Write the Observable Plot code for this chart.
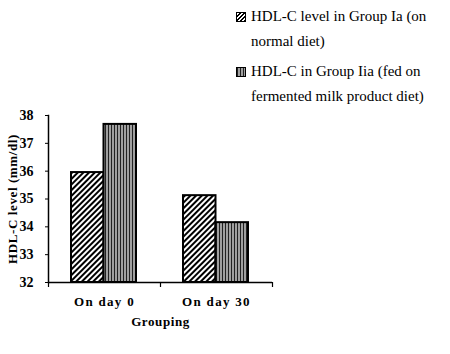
<!DOCTYPE html>
<html>
<head>
<meta charset="utf-8">
<script src="https://cdn.jsdelivr.net/npm/d3@7"></script>
<script src="https://cdn.jsdelivr.net/npm/@observablehq/plot@0.6"></script>
<style>
  html, body { margin: 0; padding: 0; background: #fff; }
  #wrap { position: relative; width: 450px; height: 354px; }
  #legend { position: absolute; left: 236px; top: 4px; color: #000; }
  .item { display: flex; align-items: flex-start; margin-bottom: 5px; }
  .sw { width: 10px; height: 10px; border: 1px solid #000; margin-top: 8px; margin-right: 5px; flex: none; box-sizing: border-box; }
  .lt { font-family: "Liberation Serif", "DejaVu Serif", serif !important; font-size: 15px; line-height: 25px; }
</style>
</head>
<body>
<div id="wrap"></div>
<script>
const categories = ["On day 0", "On day 30"];
const seriesNames = ["HDL-C level in Group Ia (on normal diet)", "HDL-C in Group Iia (fed on fermented milk product diet)"];
const groupIa = [35.95, 35.12];
const groupIIa = [37.68, 34.15];
const yTicks = [32, 33, 34, 35, 36, 37, 38];

const dataIa = categories.map((c, i) => ({cat: c, value: groupIa[i]}));
const dataIIa = categories.map((c, i) => ({cat: c, value: groupIIa[i]}));

const chart = Plot.plot({
  width: 450,
  height: 354,
  marginLeft: 48,
  marginRight: 178,
  marginTop: 115,
  marginBottom: 72,
  style: {fontFamily: "'Liberation Serif', serif", background: "#fff"},
  x: {domain: categories, padding: 0, label: null},
  y: {domain: [32, 38], ticks: yTicks, label: null},
  marks: [
    Plot.barY(dataIa, {x: "cat", y1: 32, y2: "value", fill: "url(#diag)", stroke: "#000", strokeWidth: 2, insetLeft: 23, insetRight: 56.5}),
    Plot.barY(dataIIa, {x: "cat", y1: 32, y2: "value", fill: "url(#vert)", stroke: "#000", strokeWidth: 2, insetLeft: 55.5, insetRight: 24}),
    Plot.ruleY([32], {stroke: "#000", strokeWidth: 1.5}),
    Plot.frame({anchor: "left", stroke: "#000", strokeWidth: 1.5}),
    Plot.ruleX(categories, {x: d => d, y1: 32, y2: 32, insetBottom: -5, dx: -56, stroke: "#000", strokeWidth: 1.2}),
    Plot.ruleX([categories[categories.length - 1]], {x: d => d, y1: 32, y2: 32, insetBottom: -5, dx: 56, stroke: "#000", strokeWidth: 1.2}),
    Plot.axisY({ticks: yTicks, tickFormat: d3.format("d"), tickSize: 3, tickPadding: 12, fontSize: 14, fontWeight: "bold", label: null, stroke: "#000"}),
    Plot.axisX({tickSize: 0, tickPadding: 14, fontSize: 13, fontWeight: "bold", label: null}),
    Plot.text(["HDL-C level (mm/dl)"], {frameAnchor: "left", textAnchor: "middle", lineAnchor: "middle", dx: -36, rotate: -90, fontSize: 13, fontWeight: "bold", text: d => d}),
    Plot.text(["Grouping"], {frameAnchor: "bottom", lineAnchor: "middle", dy: 39, fontSize: 13, fontWeight: "bold", text: d => d})
  ]
});

const svgns = "http://www.w3.org/2000/svg";
const defs = document.createElementNS(svgns, "defs");
defs.innerHTML = `
  <pattern id="diag" patternUnits="userSpaceOnUse" width="4" height="4" patternTransform="rotate(45)">
    <rect width="4" height="4" fill="#fff"/>
    <rect width="2" height="4" fill="#000"/>
  </pattern>
  <pattern id="vert" patternUnits="userSpaceOnUse" width="3" height="3">
    <rect width="3" height="3" fill="#a0a0a0"/>
    <rect width="1" height="3" fill="#222"/>
  </pattern>`;
chart.insertBefore(defs, chart.firstChild);
chart.querySelectorAll("g[aria-label='x-axis tick label'] text").forEach(t => t.style.letterSpacing = "1.3px");
chart.querySelectorAll("g[aria-label='text'] text").forEach(t => t.style.letterSpacing = "0.6px");

const wrap = document.getElementById("wrap");
wrap.appendChild(chart);

const legend = document.createElement("div");
legend.id = "legend";
const swatchStyles = [
  "background: repeating-linear-gradient(-45deg, #000 0 1.4px, #fff 1.4px 2.8px);",
  "background: repeating-linear-gradient(90deg, #222 0 1px, #a0a0a0 1px 3px);"
];
const lines = [["HDL-C level in Group Ia (on", "normal diet)"], ["HDL-C in Group Iia (fed on", "fermented milk product diet)"]];
seriesNames.forEach((name, i) => {
  const item = document.createElement("div");
  item.className = "item";
  item.title = name;
  const sw = document.createElement("div");
  sw.className = "sw";
  sw.style.cssText = swatchStyles[i];
  const txt = document.createElement("div");
  txt.className = "lt";
  txt.innerHTML = lines[i].join("<br>");
  item.appendChild(sw);
  item.appendChild(txt);
  legend.appendChild(item);
});
wrap.appendChild(legend);
</script>
</body>
</html>
